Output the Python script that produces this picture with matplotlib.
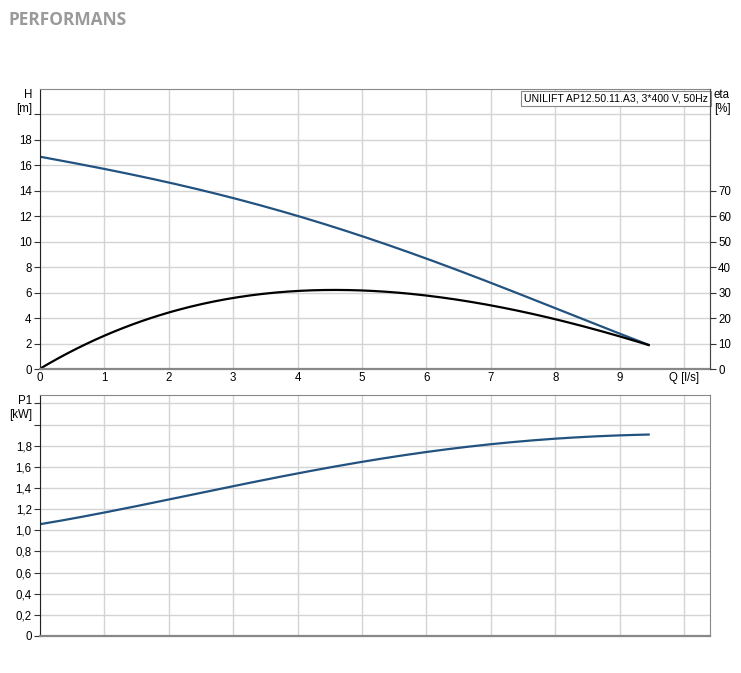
import numpy as np
import matplotlib
matplotlib.use("Agg")
from matplotlib import pyplot as plt

plt.rcParams['font.family'] = ['Liberation Sans', 'DejaVu Sans']

q = [0, 1, 2, 3, 4, 5, 6, 7, 8, 9.45]
head = [16.65, 15.8, 14.6, 13.4, 12.0, 10.5, 8.7, 6.7, 4.8, 1.9]
q_eta = [0, 0.5, 1, 2, 3, 4, 4.6, 5, 6, 7, 8, 9.45]
eta = [0, 7.2, 13.3, 22.0, 27.8, 30.6, 31.3, 31.0, 28.6, 25.0, 19.6, 9.4]
p1 = [1.057, 1.17, 1.29, 1.415, 1.54, 1.65, 1.74, 1.81, 1.87, 1.905]

h_ticks = [0, 2, 4, 6, 8, 10, 12, 14, 16, 18]
eta_ticks = [0, 10, 20, 30, 40, 50, 60, 70]
p_ticks = [0, 0.2, 0.4, 0.6, 0.8, 1.0, 1.2, 1.4, 1.6, 1.8]
q_ticks = [0, 1, 2, 3, 4, 5, 6, 7, 8, 9]
pump_name = "UNILIFT AP12.50.11.A3, 3*400 V, 50Hz"

blue = "#22527f"
grid_c = "#d4d4d4"
fs = 8.3


def smooth(x, y, n=200):
    c = np.polyfit(x, y, 4)
    xs = np.linspace(x[0], x[-1], n)
    return xs, np.polyval(c, xs)


fig = plt.figure(figsize=(7.41, 6.73), dpi=100)
fig.text(0.012, 0.971, "PERFORMANS", fontsize=12.5, fontweight="bold",
         color="#9a9a9a", va="center", family=["Open Sans", "DejaVu Sans"])

ax1 = fig.add_axes([0.054, 0.4517, 0.904, 0.4161])
ax2 = fig.add_axes([0.054, 0.055, 0.904, 0.3581])

for ax in (ax1, ax2):
    ax.set_xlim(0, 10.4)
    ax.set_xticks(list(range(11)))
    ax.grid(True, color=grid_c, lw=1)
    ax.set_axisbelow(True)
    ax.tick_params(labelsize=fs, length=4, width=0.8, color="#333333", pad=2)
    ax.spines['left'].set_color("#222222")
    ax.spines['bottom'].set_color("#888888")
    ax.spines['bottom'].set_linewidth(1.6)
    ax.spines['top'].set_color("#888888")
    ax.spines['right'].set_color("#888888")

# top: head and efficiency
ax1.set_ylim(0, 22)
ax1.set_yticks(list(range(0, 22, 2)))
ax1.set_yticklabels([str(t) if t in h_ticks else "" for t in range(0, 22, 2)])
ax1.set_xticklabels([str(t) for t in q_ticks] + ["Q [l/s]"])
ax1.tick_params(axis='x', length=0)
xs, ys = smooth(q, head)
ax1.plot(xs, ys, color=blue, lw=1.6)
xe, ye = smooth(q_eta, eta, 200)
ax1.plot(xe, np.array(ye) / 5.0, color="black", lw=1.6)

ax1r = ax1.twinx()
ax1r.set_ylim(0, 110)
ax1r.set_yticks(eta_ticks)
ax1r.tick_params(labelsize=fs, length=4, width=0.8, color="#333333", pad=2)
ax1r.spines['right'].set_color("#444444")
ax1r.spines['top'].set_visible(False)
ax1r.spines['left'].set_visible(False)
ax1r.spines['bottom'].set_visible(False)

ax1.text(-0.012, 1.0, "H\n[m]", transform=ax1.transAxes, ha="right", va="top",
         fontsize=fs, linespacing=1.2)
ax1.text(1.006, 1.0, "eta\n[%]", transform=ax1.transAxes, ha="left", va="top",
         fontsize=fs, linespacing=1.2)
ax1.text(0.997, 0.985, pump_name, transform=ax1.transAxes, ha="right", va="top",
         fontsize=7.6, bbox=dict(boxstyle="square,pad=0.25", fc="white",
                                 ec="#888888", lw=0.8))

# bottom: power
ax2.set_ylim(0, 2.28)
p_all = [round(0.2 * i, 1) for i in range(12)]
ax2.set_yticks(p_all)
ax2.set_yticklabels([("%.1f" % t).replace(".", ",") if t in p_ticks and t > 0 else ("0" if t == 0 else "") for t in p_all])
ax2.set_xticklabels([])
ax2.tick_params(axis='x', length=0)
xp, yp = smooth(q, p1)
ax2.plot(xp, yp, color=blue, lw=1.6)
ax2.text(-0.012, 1.0, "P1\n[kW]", transform=ax2.transAxes, ha="right", va="top",
         fontsize=fs, linespacing=1.2)

fig.savefig("out.png", dpi=100)
